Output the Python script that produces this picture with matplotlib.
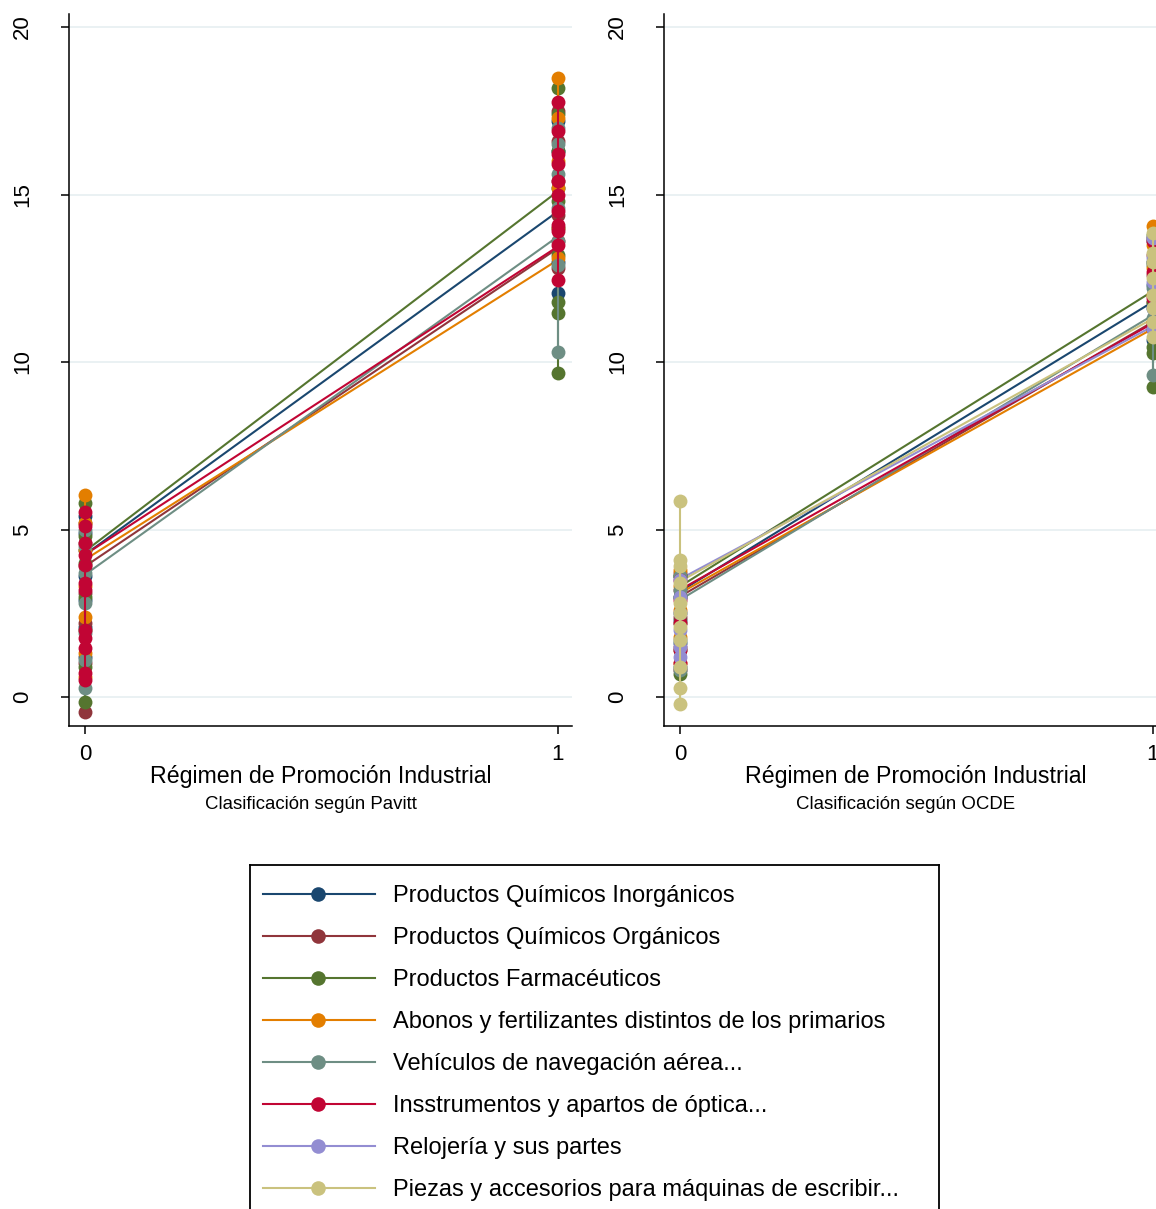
import numpy as np
import matplotlib
matplotlib.use('Agg')
import matplotlib.pyplot as plt

plt.rcParams['font.family'] = ['Liberation Sans', 'DejaVu Sans']

# series names and colours (stata s2color)
names = ['Productos Químicos Inorgánicos',
         'Productos Químicos Orgánicos',
         'Productos Farmacéuticos',
         'Abonos y fertilizantes distintos de los primarios',
         'Vehículos de navegación aérea...',
         'Insstrumentos y apartos de óptica...',
         'Relojería y sus partes',
         'Piezas y accesorios para máquinas de escribir...']
colors = ['#1a476f', '#90353b', '#55752f', '#e37e00',
          '#6e8e84', '#c10534', '#938dd2', '#cac27e']

# left panel (Pavitt) -- values at x=0 and x=1 for each series
pav_x0 = [
    [1.2, 2.1, 2.9, 3.6, 4.4, 4.9, 5.4],
    [-0.45, 1.0, 2.2, 3.1, 3.9, 4.6, 5.2],
    [-0.15, 0.9, 2.0, 3.0, 4.0, 4.8, 5.8],
    [0.6, 1.3, 2.4, 3.3, 4.4, 5.2, 6.03],
    [0.27, 1.1, 1.9, 2.8, 3.7, 4.5, 5.0],
    [0.5, 0.72, 1.46, 1.76, 2.0, 3.2, 3.4, 3.94, 4.24, 4.6, 5.1, 5.52],
]
pav_x1 = [
    [12.06, 13.0, 14.0, 15.2, 16.3, 17.2],
    [12.8, 13.6, 14.4, 15.4, 16.6, 17.5],
    [9.67, 11.47, 11.8, 13.2, 14.8, 16.3, 17.4, 18.18],
    [13.1, 14.0, 15.2, 16.0, 17.3, 18.48],
    [10.3, 12.9, 13.6, 14.6, 15.6, 16.5, 17.0],
    [12.45, 13.5, 13.9, 14.1, 14.5, 15.0, 15.4, 15.9, 16.2, 16.9, 17.77],
]
pav_fit0 = [4.25, 3.9, 4.35, 4.1, 3.65, 4.25]
pav_fit1 = [14.5, 13.4, 15.1, 13.05, 13.75, 13.45]

# right panel (OCDE)
ocde_x0 = [
    [0.9, 1.6, 2.3, 3.0, 3.6],
    [0.8, 1.5, 2.4, 3.2, 3.7],
    [0.7, 1.4, 2.2, 3.0, 3.6],
    [1.0, 1.8, 2.6, 3.3, 3.8],
    [0.8, 1.7, 2.5, 3.2, 3.6],
    [1.0, 1.4, 2.2, 2.9, 3.5],
    [1.2, 1.5, 2.0, 2.5, 3.0, 3.5],
    [-0.2, 0.27, 0.9, 1.7, 2.1, 2.5, 2.8, 3.4, 3.9, 4.1, 5.85],
]
ocde_x1 = [
    [10.65, 11.6, 12.3, 13.0, 13.6],
    [11.0, 11.8, 12.6, 13.2, 13.7],
    [9.25, 10.27, 10.45, 11.8, 12.9, 13.8],
    [11.2, 12.0, 12.8, 13.5, 14.06],
    [9.6, 11.3, 12.2, 13.0, 13.7],
    [11.1, 11.9, 12.7, 13.6],
    [11.0, 11.6, 12.4, 13.1, 13.7],
    [10.75, 11.2, 11.6, 12.0, 12.5, 13.0, 13.25, 13.85],
]
ocde_fit0 = [3.15, 3.0, 3.3, 3.1, 2.9, 3.2, 3.52, 3.45]
ocde_fit1 = [11.8, 11.2, 12.12, 11.0, 11.4, 11.16, 11.07, 11.3]

W, H = 1156, 1209
fig = plt.figure(figsize=(W / 100, H / 100), dpi=100)

ms = 10
lw = 1.5


def draw_panel(ax, x0, x1, fit0, fit1, title, subtitle):
    n = len(x0)
    for i in range(n):
        ax.plot([0, 1], [fit0[i], fit1[i]], color=colors[i], lw=lw, zorder=2)
    for i in range(n):
        for xv, vals in ((0, x0[i]), (1, x1[i])):
            v = np.sort(vals)
            ax.plot(np.full(len(v), xv), v, color=colors[i], lw=lw,
                    marker='o', ms=ms, mew=0, zorder=3, clip_on=False)
    ax.set_xlim(-0.0338, 1.0296)
    ax.set_ylim(-0.866, 20.39)
    ax.set_xticks([0, 1])
    ax.set_yticks([0, 5, 10, 15, 20])
    ax.grid(axis='y', color='#e8f0f2', lw=1.3, zorder=0)
    ax.set_axisbelow(True)
    for s in ['top', 'right']:
        ax.spines[s].set_visible(False)
    for s in ['left', 'bottom']:
        ax.spines[s].set_linewidth(1.1)
    ax.tick_params(axis='both', length=5.8, width=1.1, labelsize=16)
    ax.tick_params(axis='y', pad=20)
    ax.tick_params(axis='x', pad=7)
    for lab in ax.get_yticklabels():
        lab.set_rotation(90)
        lab.set_va('center')
    ax.text(0.5, -0.0705, title, transform=ax.transAxes, ha='center',
            va='center', fontsize=16.7)
    # subtitle sits a little left of centre, as in the original
    ax.text(0.48, -0.1105, subtitle, transform=ax.transAxes, ha='center',
            va='center', fontsize=13.4)


ax1 = fig.add_axes([69 / W, 483 / H, 503 / W, 712 / H])
ax2 = fig.add_axes([664 / W, 483 / H, 503 / W, 712 / H])
draw_panel(ax1, pav_x0, pav_x1, pav_fit0, pav_fit1,
           'Régimen de Promoción Industrial', 'Clasificación según Pavitt')
draw_panel(ax2, ocde_x0, ocde_x1, ocde_fit0, ocde_fit1,
           'Régimen de Promoción Industrial', 'Clasificación según OCDE')

# legend box, drawn by hand (bottom edge falls off the figure)
lx0, lx1, ly0, ly1 = 250, 939, 865, H + 60
leg = fig.add_axes([lx0 / W, (H - ly1) / H, (lx1 - lx0) / W, (ly1 - ly0) / H])
leg.set_xlim(lx0, lx1)
leg.set_ylim(ly1, ly0)
leg.set_xticks([])
leg.set_yticks([])
for s in leg.spines.values():
    s.set_linewidth(1.3)
for i, name in enumerate(names):
    yy = 894 + 42 * i
    leg.plot([263, 375], [yy, yy], color=colors[i], lw=lw)
    leg.plot([318], [yy], color=colors[i], marker='o', ms=10.5, mew=0)
    leg.text(393, yy + 2, name, va='center', ha='left', fontsize=17)

fig.savefig('out.png', dpi=100)
